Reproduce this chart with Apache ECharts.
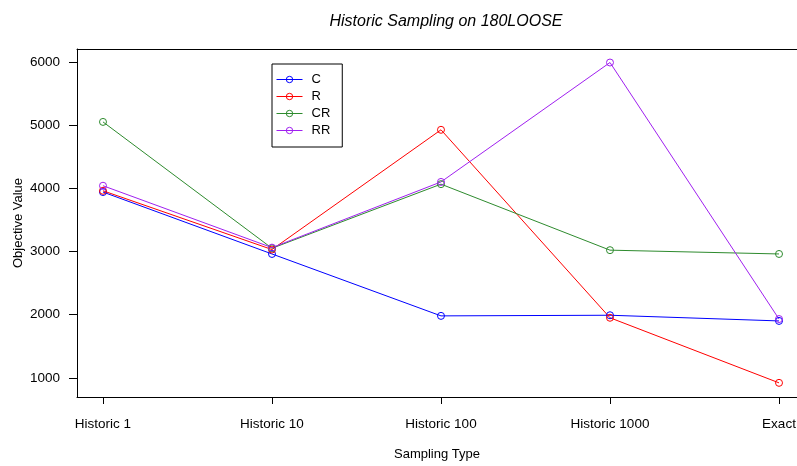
<!DOCTYPE html>
<html><head><meta charset="utf-8">
<script src="https://cdn.jsdelivr.net/npm/echarts@6/dist/echarts.min.js"></script>
<style>html,body{margin:0;padding:0;background:#fff}#c{width:797px;height:466px}</style>
</head><body><div id="c"></div>
<script>
const categories = ['Historic 1','Historic 10','Historic 100','Historic 1000','Exact'];
const seriesNames = ['C','R','CR','RR'];
const valuesC  = [3940, 2960, 1980, 1990, 1900];
const valuesR  = [3960, 3030, 4925, 1950, 920];
const valuesCR = [5050, 3050, 4065, 3020, 2960];
const valuesRR = [4040, 3060, 4100, 5990, 1930];
const yTicks = [1000, 2000, 3000, 4000, 5000, 6000];
const colors = ['#0000FF','#FF0000','#2E8B2E','#A020F0'];

const allVals = [valuesC, valuesR, valuesCR, valuesRR];
const xIdx = categories.map((_, i) => i + 1);
const font = 'Liberation Sans, Arial, sans-serif';

const chart = echarts.init(document.getElementById('c'), null, {renderer:'canvas'});
chart.setOption({
  animation: false,
  backgroundColor: '#fff',
  title: {
    text: 'Historic Sampling on 180LOOSE',
    left: 441, top: 9, textAlign: 'center',
    textStyle: {fontFamily: font, fontSize: 16, fontStyle: 'italic', fontWeight: 'normal', color: '#000'}
  },
  grid: {left: 77, top: 49, right: 0, height: 348, show: false, outerBoundsMode: 'none', containLabel: false},
  legend: {
    orient: 'vertical', left: 272, top: 64,
    data: seriesNames,
    borderColor: '#000', borderWidth: 1, borderRadius: 0,
    padding: [9, 12, 10, 4],
    itemWidth: 26, itemHeight: 8, itemGap: 4,
    lineStyle: {width: 1},
    itemStyle: {borderWidth: 1},
    textStyle: {fontFamily: font, fontSize: 13, color: '#000', padding: [0,0,0,4]}
  },
  xAxis: [{
    type: 'value', min: 0.8462, max: 5.1065, position: 'bottom',
    name: 'Sampling Type', nameLocation: 'middle', nameGap: 51, nameMoveOverlap: false,
    nameTextStyle: {fontFamily: font, fontSize: 13, color: '#000'},
    axisLine: {show: true, onZero: false, lineStyle: {color: '#000', width: 1}},
    splitLine: {show: false},
    axisTick: {show: true, inside: false, length: 7, lineStyle: {color: '#000'}, customValues: xIdx},
    axisLabel: {
      customValues: xIdx, margin: 20,
      fontFamily: font, fontSize: 13.5, color: '#000',
      formatter: v => categories[Math.round(v) - 1] || ''
    }
  }, {
    type: 'value', min: 0.8462, max: 5.1065, position: 'top',
    axisLine: {show: true, onZero: false, lineStyle: {color: '#000', width: 1}},
    axisTick: {show: false}, axisLabel: {show: false}, splitLine: {show: false}
  }],
  yAxis: {
    type: 'value', min: 696, max: 6204,
    name: 'Objective Value', nameLocation: 'middle', nameGap: 52, nameRotate: 90, nameMoveOverlap: false,
    nameTextStyle: {fontFamily: font, fontSize: 13, color: '#000'},
    axisLine: {show: true, onZero: false, lineStyle: {color: '#000', width: 1}},
    splitLine: {show: false},
    axisTick: {show: true, length: 8, lineStyle: {color: '#000'}, customValues: yTicks},
    axisLabel: {customValues: yTicks, margin: 17, fontFamily: font, fontSize: 13.5, color: '#000',
      formatter: v => String(v)}
  },
  series: seriesNames.map((n, k) => ({
    name: n, type: 'line', xAxisIndex: 0,
    data: allVals[k].map((v, i) => [xIdx[i], v]),
    symbol: 'circle', symbolSize: 7,
    lineStyle: {width: 1, color: colors[k]},
    itemStyle: {color: 'rgba(255,255,255,0)', borderColor: colors[k], borderWidth: 1},
    emphasis: {disabled: true}
  }))
});
</script></body></html>
